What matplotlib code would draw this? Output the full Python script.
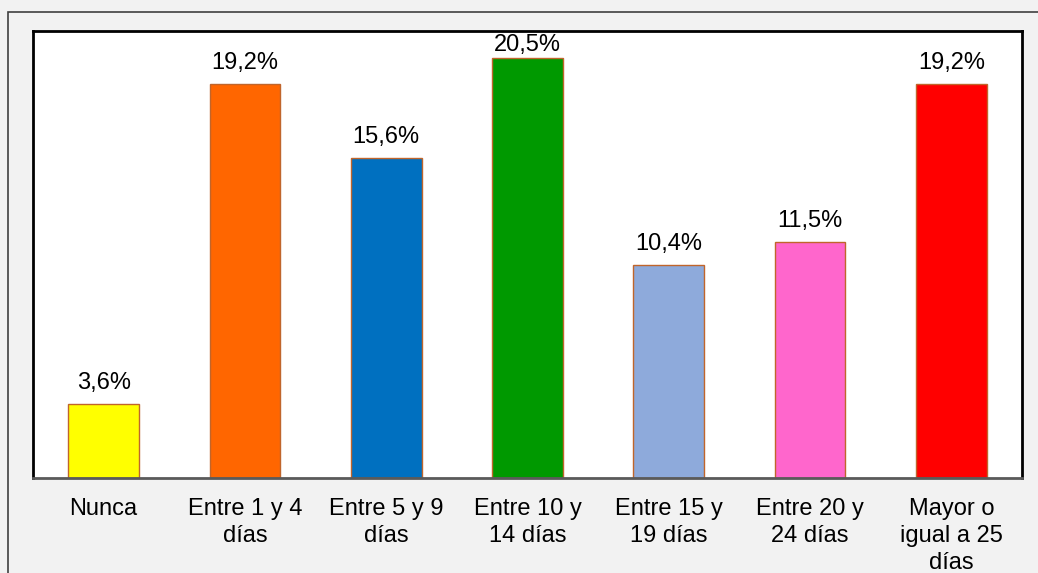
import matplotlib
matplotlib.use("Agg")
import matplotlib.pyplot as plt
from matplotlib.patches import Rectangle

plt.rcParams['font.family'] = ['Liberation Sans', 'DejaVu Sans']

categories = ["Nunca", "Entre 1 y 4\ndías", "Entre 5 y 9\ndías", "Entre 10 y\n14 días",
              "Entre 15 y\n19 días", "Entre 20 y\n24 días", "Mayor o\nigual a 25\ndías"]
values = [3.6, 19.2, 15.6, 20.5, 10.4, 11.5, 19.2]
labels = ["3,6%", "19,2%", "15,6%", "20,5%", "10,4%", "11,5%", "19,2%"]
colors = ["#ffff00", "#ff6600", "#0070c0", "#009900", "#8eaadb", "#ff66cc", "#ff0000"]

W, H = 1038, 573
fig = plt.figure(figsize=(W / 100, H / 100), dpi=100)
fig.patch.set_facecolor("#f2f2f2")

# outer chart frame (cut at the right and bottom edges)
fig.add_artist(Rectangle((8 / W, -0.1), 1.2, (H - 12) / H + 0.1, transform=fig.transFigure,
                         fill=False, edgecolor="#404040", linewidth=1.2))

ax = fig.add_axes([33 / W, 1 - 478 / H, (1022 - 33) / W, (478 - 31) / H])
ax.set_facecolor("white")

ymax = 21.8
x = range(len(categories))
ax.bar(x, values, width=0.5, color=colors, edgecolor="#c0652b", linewidth=1.0)

# value labels above the bars, kept inside the plot area
label_gap = 0.73
label_cap = ymax - 0.97
for xi, v, lab in zip(x, values, labels):
    ax.text(xi, min(v + label_gap, label_cap), lab, ha="center", va="baseline", fontsize=17)

ax.set_xlim(-0.5, len(categories) - 0.5)
ax.set_ylim(0, ymax)
ax.set_yticks([])
ax.set_xticks(list(x))
ax.set_xticklabels(categories, fontsize=17, linespacing=1.28)
ax.tick_params(axis="x", length=0, pad=14.5)

for side in ["left", "top", "right"]:
    ax.spines[side].set_color("black")
    ax.spines[side].set_linewidth(2.0)
ax.spines["bottom"].set_color("#5a5a5a")
ax.spines["bottom"].set_linewidth(2.0)

fig.savefig("out.png", dpi=100, facecolor=fig.get_facecolor())
